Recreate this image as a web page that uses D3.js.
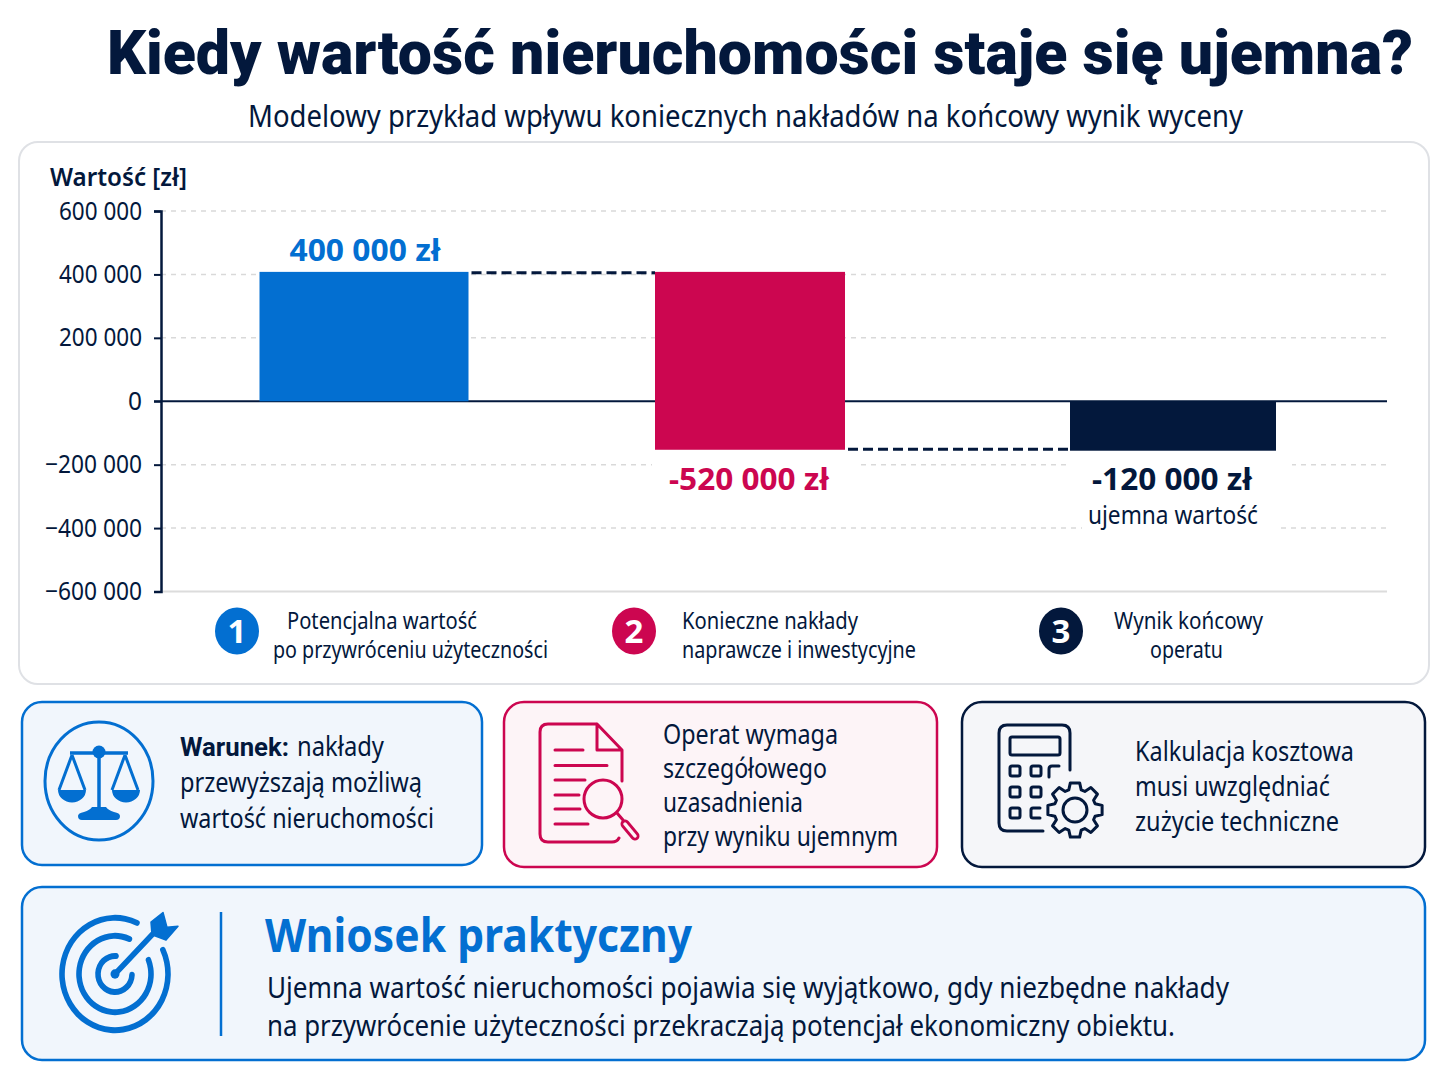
<!DOCTYPE html>
<html lang="pl"><head><meta charset="utf-8">
<style>html,body{margin:0;padding:0;background:#fff}svg{display:block}text{font-family:"Noto Sans",sans-serif}</style>
<script src="https://cdn.jsdelivr.net/npm/d3@7"></script></head><body>
<svg id="c" width="1448" height="1086" viewBox="0 0 1448 1086"></svg>
<script>
const categories = ["Potencjalna wartość", "Konieczne nakłady", "Wynik końcowy"];
const barHigh = [408000, 408000, 0];
const barLow = [0, -153000, -156000];
const barLabels = ["400 000 zł", "-520 000 zł", "-120 000 zł"];
const tickValues = [600000, 400000, 200000, 0, -200000, -400000, -600000];
const tickLabels = ["600 000", "400 000", "200 000", "0", "−200 000", "−400 000", "−600 000"];

const NAVY = "#03183c", BLUE = "#036fd1", RED = "#cc0650";
const barColors = [BLUE, RED, NAVY];
const barCenters = [364, 750, 1173];
const barWidths = [209, 190, 206];

const svg = d3.select("#c");
function T(parent, str, x, y, width, size, weight, fill, anchor) {
  const el = parent.append("text").attr("x", x).attr("y", y).attr("font-size", size)
    .attr("font-weight", weight || 400).attr("fill", fill || NAVY).attr("text-anchor", anchor || "start").text(str);
  if (width) el.attr("textLength", width).attr("lengthAdjust", "spacingAndGlyphs");
  return el;
}
function box(x, y, w, h, r, stroke, fill, sw) {
  svg.append("rect").attr("x", x).attr("y", y).attr("width", w).attr("height", h).attr("rx", r)
    .attr("fill", fill).attr("stroke", stroke).attr("stroke-width", sw);
}

// headline
T(svg, "Kiedy wartość nieruchomości staje się ujemna?", 107, 74, 1306, 62, 900).style("font-family", "Roboto,sans-serif");
T(svg, "Modelowy przykład wpływu koniecznych nakładów na końcowy wynik wyceny", 248, 127, 995, 30, 400);

// chart card
box(19, 142, 1410, 542, 19, "#dfe1e5", "#fff", 2);
T(svg, "Wartość [zł]", 50, 186, 137, 26, 600);

const y = d3.scaleLinear().domain([-600000, 600000]).range([591.5, 211]);
const x = d3.scaleOrdinal().domain(categories).range(barCenters);
const left = 161, right = 1387;

const grid = svg.append("g");
grid.selectAll("line").data(tickValues.filter(v => v !== 0 && v !== -600000)).join("line")
  .attr("x1", left).attr("x2", right).attr("y1", d => y(d)).attr("y2", d => y(d))
  .attr("stroke", "#d9d9d9").attr("stroke-width", 1.5).attr("stroke-dasharray", "5 5");
grid.append("line").attr("x1", left).attr("x2", right).attr("y1", y(-600000)).attr("y2", y(-600000))
  .attr("stroke", "#dcdcdc").attr("stroke-width", 2);

// label halos break the gridlines
[[652,456,204,15],[1070,456,222,15],[1082,520,196,15]].forEach(r =>
  svg.append("rect").attr("x", r[0]).attr("y", r[1]).attr("width", r[2]).attr("height", r[3]).attr("fill", "#fff"));

const axis = d3.axisLeft(y).tickValues(tickValues).tickSize(7).tickPadding(12)
  .tickFormat((d, i) => tickLabels[i]);
const ag = svg.append("g").attr("transform", `translate(${left},0)`).call(axis);
ag.select(".domain").attr("stroke", NAVY).attr("stroke-width", 2.5);
ag.selectAll(".tick line").attr("stroke", NAVY).attr("stroke-width", 2);
ag.selectAll(".tick text").attr("font-size", 25).attr("fill", NAVY).style("font-family", '"Noto Sans",sans-serif')
  .attr("textLength", (d, i) => [83,83,83,14,97,97,97][i]).attr("lengthAdjust", "spacingAndGlyphs");

svg.append("line").attr("x1", left - 7).attr("x2", right).attr("y1", y(0)).attr("y2", y(0))
  .attr("stroke", NAVY).attr("stroke-width", 2);

// connectors
const dash = (x1, x2, v) => svg.append("line").attr("x1", x1).attr("x2", x2).attr("y1", y(v)).attr("y2", y(v))
  .attr("stroke", NAVY).attr("stroke-width", 3).attr("stroke-dasharray", "10 5");
dash(barCenters[0] + barWidths[0] / 2 + 3, barCenters[1] - barWidths[1] / 2, barHigh[1] - 3000);
dash(barCenters[1] + barWidths[1] / 2 + 3, barCenters[2] - barWidths[2] / 2, barLow[1] + 2000);

// bars
svg.append("g").selectAll("rect").data(categories).join("rect")
  .attr("x", (d, i) => x(d) - barWidths[i] / 2).attr("width", (d, i) => barWidths[i])
  .attr("y", (d, i) => y(barHigh[i])).attr("height", (d, i) => y(barLow[i]) - y(barHigh[i]))
  .attr("fill", (d, i) => barColors[i]);

// value labels
const lblY = [261, 490, 490], lblW = [151, 160, 160], lblX = [365, 749, 1172];
barLabels.forEach((s, i) => T(svg, s, lblX[i], lblY[i], lblW[i], 31, 700, barColors[i], "middle"));
T(svg, "ujemna wartość", 1173, 524, 170, 25, 400, NAVY, "middle");

// legend
[[237,"1",BLUE],[634,"2",RED],[1061,"3",NAVY]].forEach(d => {
  svg.append("ellipse").attr("cx", d[0]).attr("cy", 631).attr("rx", 22).attr("ry", 23.5).attr("fill", d[2]);
  T(svg, d[1], d[0], 643, null, 33, 700, "#fff", "middle");
});
T(svg, categories[0], 287, 629, 190, 23, 400);
T(svg, "po przywróceniu użyteczności", 273, 658, 275, 23, 400);
T(svg, categories[1], 682, 629, 176, 23, 400);
T(svg, "naprawcze i inwestycyjne", 682, 658, 234, 23, 400);
T(svg, categories[2], 1114, 629, 149, 23, 400);
T(svg, "operatu", 1150, 658, 73, 23, 400);

// info cards
box(22, 702, 460, 163, 20, BLUE, "#f1f6fc", 2.5);
box(504, 702, 433, 165, 20, RED, "#fdf4f7", 2.5);
box(962, 702, 463, 165, 20, NAVY, "#f5f6f9", 2.5);
box(22, 887, 1403, 173, 20, BLUE, "#f1f6fc", 2.5);

T(svg, "Warunek:", 180, 756, 109, 26, 700).style("font-family", "Roboto,sans-serif");
T(svg, "nakłady", 297, 756, 87, 27, 400);
T(svg, "przewyższają możliwą", 180, 792, 242, 27, 400);
T(svg, "wartość nieruchomości", 180, 828, 254, 27, 400);
T(svg, "Operat wymaga", 663, 744, 175, 27, 400);
T(svg, "szczegółowego", 663, 778, 164, 27, 400);
T(svg, "uzasadnienia", 663, 812, 140, 27, 400);
T(svg, "przy wyniku ujemnym", 663, 846, 235, 27, 400);
T(svg, "Kalkulacja kosztowa", 1135, 761, 219, 27, 400);
T(svg, "musi uwzględniać", 1135, 796, 195, 27, 400);
T(svg, "zużycie techniczne", 1135, 831, 204, 27, 400);

T(svg, "Wniosek praktyczny", 265, 952, 427, 46, 700, BLUE);
T(svg, "Ujemna wartość nieruchomości pojawia się wyjątkowo, gdy niezbędne nakłady", 267, 998, 962, 29, 400);
T(svg, "na przywrócenie użyteczności przekraczają potencjał ekonomiczny obiektu.", 267, 1036, 908, 29, 400);
svg.append("line").attr("x1", 221).attr("x2", 221).attr("y1", 912).attr("y2", 1036).attr("stroke", BLUE).attr("stroke-width", 2.5);

// icon: scales
const s = svg.append("g").attr("fill", "none").attr("stroke", BLUE).attr("stroke-width", 3);
s.append("ellipse").attr("cx", 99).attr("cy", 781).attr("rx", 54).attr("ry", 59);
s.append("path").attr("d", "M70 753H128M99 752V815").attr("stroke-width", 3.5);
s.append("path").attr("d", "M72 755L59 790M72 755L85 790M125 755L112 790M125 755L138 790");
s.append("circle").attr("cx", 99).attr("cy", 752).attr("r", 6.5).attr("fill", BLUE).attr("stroke", "none");
s.append("path").attr("d", "M58 790H86A14 12.5 0 0 1 58 790ZM112 790H140A14 12.5 0 0 1 112 790Z").attr("fill", BLUE).attr("stroke", "none");
s.append("path").attr("d", "M82 820Q78 820 78 816Q78 813 84 812Q90 810 92 807H106Q108 810 114 812Q120 813 120 816Q120 820 116 820Z").attr("fill", BLUE).attr("stroke", "none");

// icon: document with magnifier
const d1 = svg.append("g").attr("fill", "none").attr("stroke", RED).attr("stroke-width", 3).attr("stroke-linecap", "round").attr("stroke-linejoin", "round");
d1.append("path").attr("d", "M597 724H548Q540 724 540 732V834Q540 842 548 842H612Q617 842 619 838M622 781V750L597 724V750H622");
d1.append("path").attr("d", "M555 750H583M555 765.5H607M555 780H585M555 795H579M555 809H580M555 824H588");
d1.append("circle").attr("cx", 603).attr("cy", 799).attr("r", 19);
d1.append("line").attr("x1", 617).attr("y1", 813).attr("x2", 623).attr("y2", 820);
d1.append("line").attr("x1", 625).attr("y1", 824).attr("x2", 635).attr("y2", 836).attr("stroke-width", 9);
d1.append("line").attr("x1", 625).attr("y1", 824).attr("x2", 635).attr("y2", 836).attr("stroke-width", 3.5).attr("stroke", "#fdf4f7");

// icon: calculator with gear
const c1 = svg.append("g").attr("fill", "none").attr("stroke", NAVY).attr("stroke-width", 3).attr("stroke-linecap", "round").attr("stroke-linejoin", "round");
c1.append("path").attr("d", "M1070 770V733Q1070 725 1062 725H1007Q999 725 999 733V823Q999 831 1007 831H1043");
c1.append("rect").attr("x", 1010).attr("y", 737).attr("width", 50).attr("height", 18).attr("rx", 2);
[[1010,766],[1031,766],[1010,787],[1031,787],[1010,808]].forEach(p =>
  c1.append("rect").attr("x", p[0]).attr("y", p[1]).attr("width", 10).attr("height", 10).attr("rx", 2));
c1.append("path").attr("d", "M1049 777V769Q1049 766 1052 766H1059M1040 808H1033Q1031 808 1031 810V816Q1031 818 1033 818H1040");
const gearPts = [];
const teeth = 8;
for (let i = 0; i < teeth; i++) {
  const a = i * 2 * Math.PI / teeth;
  [[21, -0.30], [27.5, -0.17], [27.5, 0.17], [21, 0.30]].forEach(p =>
    gearPts.push([1075 + p[0] * Math.cos(a + p[1]), 810 + p[0] * Math.sin(a + p[1])]));
}
c1.append("path").attr("d", d3.line()(gearPts) + "Z");
c1.append("circle").attr("cx", 1075).attr("cy", 810).attr("r", 12);

// icon: target
const tg = svg.append("g").attr("transform", "translate(115,974) scale(1,1.06)").attr("fill", BLUE);
const deg = Math.PI / 180;
[[53, 61.5, 387.5], [36, 64, 388], [17, 83, 373]].forEach(r =>
  tg.append("path").attr("d", d3.arc().innerRadius(r[0] - 2.8).outerRadius(r[0] + 2.8).cornerRadius(2.8)
    .startAngle(r[1] * deg).endAngle(r[2] * deg)()));
tg.append("line").attr("x1", 0).attr("y1", 0).attr("x2", 42).attr("y2", -42).attr("stroke", BLUE).attr("stroke-width", 5.5).attr("stroke-linecap", "round");
tg.append("circle").attr("r", 4.5);
tg.append("path").attr("d", "M48 -58L52 -44L63 -45L51 -32L37 -37L36 -49Z").attr("stroke", BLUE).attr("stroke-width", 1.5).attr("stroke-linejoin", "round");
</script></body></html>
